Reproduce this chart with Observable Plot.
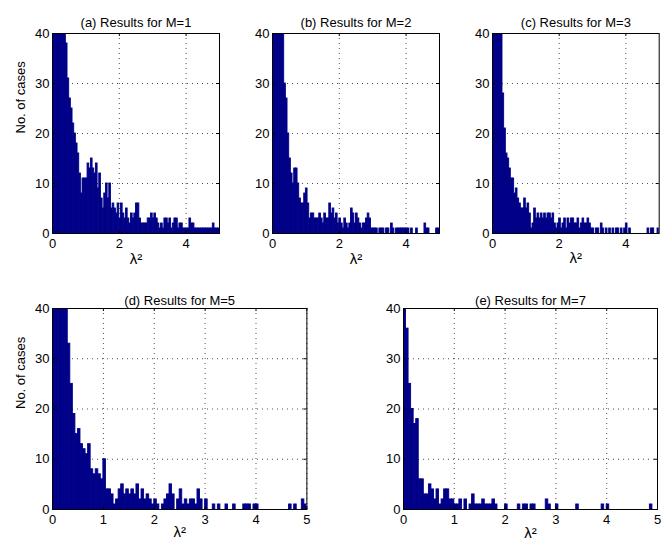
<!DOCTYPE html>
<html><head><meta charset="utf-8">
<script src="https://cdn.jsdelivr.net/npm/d3@7"></script>
<script src="https://cdn.jsdelivr.net/npm/@observablehq/plot@0.6"></script>
<style>
html,body{margin:0;padding:0;background:#fff;}
#chart{position:relative;width:661px;height:554px;overflow:hidden;background:#fff;}
#chart svg{position:absolute;}
</style></head><body><div id="chart"></div>
<script>
// Histogram bin width (λ² units); bin i covers [i*binWidth, (i+1)*binWidth)
const binWidth = 0.05;

// Counts per bin (values above 40 are clipped in the chart)
const countsM1 = [140,118,96,84,71,63,55,46,38,31,
 27,25,22,20,18,16,12,8,11,11,
 11,14,13,15,13,12,14,9,12,7,
 5,8,10,7,10,5,6,5,4,6,
 3,6,4,3,5,3,2,4,3,4,
 6,6,3,2,2,2,2,3,3,4,
 3,4,3,2,1,2,1,3,3,2,
 3,1,2,3,3,1,2,2,1,1,
 1,1,3,2,2,1,1,1,1,1,
 1,1,1,1,1,1,2,1,1,1];

const countsM2 = [160,132,110,88,70,58,47,30,27,20,
 15,12,10,13,13,10,7,6,6,8,
 9,6,3,4,4,3,3,3,4,3,
 2,4,3,3,6,4,5,3,4,2,
 3,2,1,3,2,1,2,5,4,2,
 4,3,2,1,2,2,3,4,3,1,
 1,1,1,0,1,1,1,0,1,1,
 0,2,1,0,1,1,1,1,1,1,
 1,1,0,1,0,0,1,0,0,0,
 0,2,1,1,0,0,0,0,1,1];

const countsM3 = [150,124,98,80,64,50,28,21,16,15,
 13,11,11,8,9,7,6,5,5,7,
 5,6,4,1,2,5,3,4,3,4,
 3,4,3,4,4,3,4,2,1,2,
 3,1,2,3,1,3,2,3,3,2,
 2,3,1,2,3,2,2,3,2,1,
 1,0,1,1,0,2,1,0,1,0,
 1,0,1,0,1,1,0,1,0,1,
 2,0,1,0,0,0,0,0,0,0,
 0,0,0,1,0,1,1,0,0,1];

const countsM5 = [170,140,112,90,70,52,33,25,19,15,
 16,13,12,11,13,8,7,8,7,6,
 10,4,4,3,1,2,4,5,3,4,
 3,4,3,5,2,4,2,3,2,1,
 2,1,0,1,2,3,5,3,0,2,
 4,1,2,1,2,2,1,4,2,0,
 2,0,0,1,0,1,0,0,1,0,
 0,1,0,0,0,1,1,1,0,1,
 1,0,0,0,0,0,0,0,0,0,
 0,0,0,1,0,1,0,0,2,1];

const countsM7 = [62,36,25,20,17,18,6,6,3,3,
 5,4,2,4,1,2,4,4,2,2,
 1,1,2,0,2,0,1,3,1,1,
 1,2,1,1,1,2,1,0,0,0,
 1,0,0,0,0,1,0,1,1,0,
 1,1,0,0,0,0,2,1,0,0,
 1,0,0,0,0,0,0,0,1,0,
 0,0,0,0,0,0,0,0,1,0,
 1,0,0,0,0,0,0,0,0,0,
 0,0,0,0,0,0,0,1,0,0];

const titles = ["(a) Results for M=1", "(b) Results for M=2", "(c) Results for M=3",
                "(d) Results for M=5", "(e) Results for M=7"];
const xTicksTop = [0, 2, 4];
const xTicksBottom = [0, 1, 2, 3, 4, 5];
const yTicks = [0, 10, 20, 30, 40];
const xDomain = [0, 5];
const yDomain = [0, 40];
const xLabel = "λ²";
const yLabel = "No. of cases";

// Layout (frame positions in the page)
const layout = [
  {counts: countsM1, title: titles[0], xt: xTicksTop, ylab: true,  L: 52,    T: 33.3,  W: 167,   H: 200, ldy: 30, tdy: 16},
  {counts: countsM2, title: titles[1], xt: xTicksTop, ylab: false, L: 272.3, T: 33.3,  W: 167,   H: 200, ldy: 30, tdy: 16},
  {counts: countsM3, title: titles[2], xt: xTicksTop, ylab: false, L: 491.7, T: 33.3,  W: 166.7, H: 200, ldy: 30, tdy: 16},
  {counts: countsM5, title: titles[3], xt: xTicksBottom, ylab: true,  L: 52.3,  T: 308.3, W: 254.4, H: 201, ldy: 28, tdy: 13},
  {counts: countsM7, title: titles[4], xt: xTicksBottom, ylab: false, L: 402.7, T: 308.3, W: 254,   H: 201, ldy: 28, tdy: 13}
];

const FONT = '"Liberation Sans", Arial, Helvetica, sans-serif';
const BAR = "#000088";
const chart = document.getElementById("chart");

for (const p of layout) {
  const bins = p.counts.map((c, i) => ({x0: i * binWidth, x1: (i + 1) * binWidth, count: c}));
  const mL = 50, mR = 6, mT = 26, mB = 42;
  const tick = 3;
  const marks = [
    Plot.gridX(p.xt, {stroke: "#000", strokeOpacity: 0.7, strokeDasharray: "1,4"}),
    Plot.gridY(yTicks, {stroke: "#000", strokeOpacity: 0.7, strokeDasharray: "1,4"}),
    Plot.rectY(bins, {x1: "x0", x2: "x1", y1: 0, y2: "count", fill: BAR, stroke: BAR, strokeWidth: 0.9, inset: 0, clip: true}),
    Plot.tickX(p.xt, {x: d => d, insetTop: p.H - tick, stroke: "#000"}),
    Plot.tickX(p.xt, {x: d => d, insetBottom: p.H - tick, stroke: "#000"}),
    Plot.tickY(yTicks, {y: d => d, insetRight: p.W - tick, stroke: "#000"}),
    Plot.tickY(yTicks, {y: d => d, insetLeft: p.W - tick, stroke: "#000"}),
    Plot.frame({stroke: "#000"}),
    Plot.axisX({ticks: p.xt, tickSize: 0, tickPadding: 5, label: null, tickFormat: d => String(d)}),
    Plot.axisY({ticks: yTicks, tickSize: 0, tickPadding: 3, label: null, tickFormat: d => String(d)}),
    Plot.text([xLabel], {frameAnchor: "bottom", dy: p.ldy, text: d => d, fontSize: 15}),
    Plot.text([p.title], {frameAnchor: "top", dy: -p.tdy, text: d => d})
  ];
  if (p.ylab) marks.push(Plot.text([yLabel], {frameAnchor: "left", dx: -32, rotate: -90, text: d => d}));
  const svg = Plot.plot({
    width: p.W + mL + mR,
    height: p.H + mT + mB,
    marginLeft: mL, marginRight: mR, marginTop: mT, marginBottom: mB,
    style: {fontFamily: FONT, fontSize: "13px", background: "transparent", color: "#000", maxWidth: "none", overflow: "visible"},
    x: {domain: xDomain},
    y: {domain: yDomain},
    marks
  });
  svg.style.left = (p.L - mL) + "px";
  svg.style.top = (p.T - mT) + "px";
  chart.appendChild(svg);
}
</script></body></html>
